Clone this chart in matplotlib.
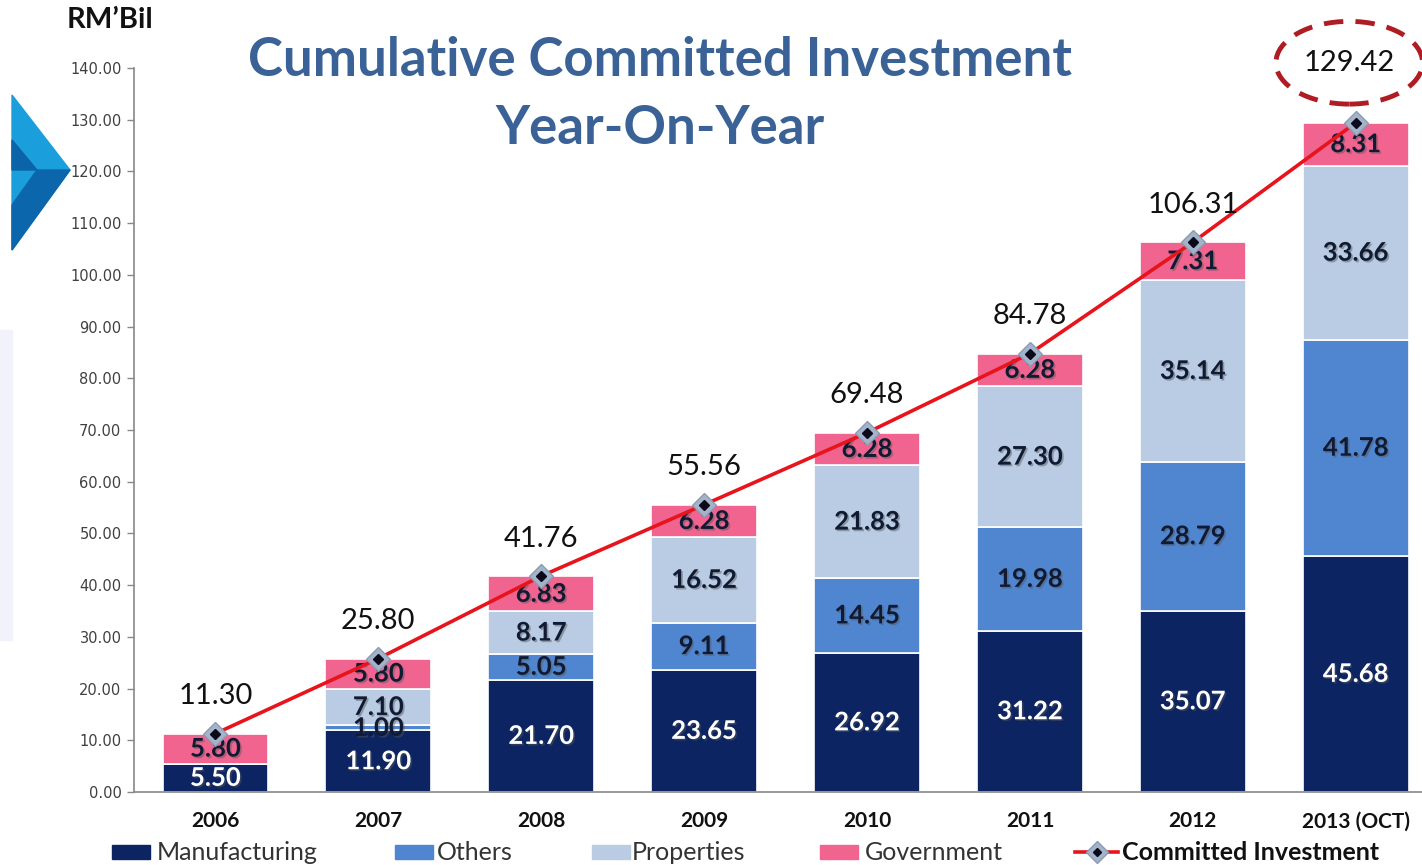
import numpy as np
import matplotlib.pyplot as plt
import matplotlib.patheffects as pe
from matplotlib.patches import Ellipse, Polygon, Rectangle
from matplotlib.lines import Line2D

plt.rcParams['font.family'] = ['Lato', 'DejaVu Sans']

# values in RM billion
years = ['2006', '2007', '2008', '2009', '2010', '2011', '2012', '2013 (OCT)']
manufacturing = [5.50, 11.90, 21.70, 23.65, 26.92, 31.22, 35.07, 45.68]
others = [0.00, 1.00, 5.05, 9.11, 14.45, 19.98, 28.79, 41.78]
properties = [0.00, 7.10, 8.17, 16.52, 21.83, 27.30, 35.14, 33.66]
government = [5.80, 5.80, 6.83, 6.28, 6.28, 6.28, 7.31, 8.31]
committed = [11.30, 25.80, 41.76, 55.56, 69.48, 84.78, 106.31, 129.42]
yticks = np.arange(0, 141, 10)

series = [('Manufacturing', manufacturing, '#0c2461', 'white'),
          ('Others', others, '#4f86cf', '#101a33'),
          ('Properties', properties, '#b9cce4', '#101a33'),
          ('Government', government, '#f0648f', '#101a33')]

W, H = 1422, 865
fig = plt.figure(figsize=(W / 100, H / 100), dpi=100)
fig.patch.set_facecolor('white')


def fpx(x, y):
    # pixel position -> figure fraction
    return (x / W, 1 - y / H)


# decorative chevron on the left edge and faint panel
fig.patches.append(Rectangle(fpx(0, 640), 12 / W, 310 / H, transform=fig.transFigure,
                             color='#f2f2fb', zorder=0))
fig.patches.append(Polygon([fpx(12, 95), fpx(70, 170), fpx(12, 250)], closed=True,
                           transform=fig.transFigure, color='#1a9fdc', zorder=0))
fig.patches.append(Polygon([fpx(12, 140), fpx(37, 170), fpx(12, 170)], closed=True,
                           transform=fig.transFigure, color='#0b63a8', zorder=0))
fig.patches.append(Polygon([fpx(37, 170), fpx(70, 170), fpx(12, 250), fpx(12, 205)],
                           closed=True, transform=fig.transFigure, color='#0b66ac', zorder=0))

ax = fig.add_axes([134 / W, 1 - 792 / H, (W - 134) / W, (792 - 68) / H])
ax.patch.set_alpha(0)

x = np.arange(len(years))
bottom = np.zeros(len(years))
shadow = [pe.SimplePatchShadow(offset=(1.2, -1.2), shadow_rgbFace='#555555', alpha=0.45),
          pe.Normal()]
for name, vals, col, tcol in series:
    vals = np.array(vals)
    ax.bar(x, vals, width=0.65, bottom=bottom, color=col, edgecolor='white',
           linewidth=1.2, zorder=2)
    for xi, b, v in zip(x, bottom, vals):
        if v > 0:
            ax.text(xi, b + v / 2, '%.2f' % v, ha='center', va='center',
                    fontsize=18.5, fontweight='bold', color=tcol, zorder=5,
                    path_effects=shadow)
    bottom += vals

# cumulative line
ax.plot(x, committed, color='#e8141c', lw=2.6, zorder=6)
ax.plot(x, committed, ls='none', marker='D', ms=12, mfc='#a3b3c9', mec='#8a9bb3',
        mew=1, zorder=7)
ax.plot(x, committed, ls='none', marker='D', ms=5, color='#0a0a1a', zorder=8)

for xi, v in zip(x[:-1], committed[:-1]):
    ax.annotate('%.2f' % v, (xi, v), xytext=(0, 27), textcoords='offset points',
                ha='center', va='center', fontsize=21, color='#111111', zorder=9)

# highlighted latest total
ax.text(x[-1] - 0.04, committed[-1] + 11.6, '%.2f' % committed[-1], ha='center',
        va='center', fontsize=21, color='#111111', clip_on=False)
ax.add_patch(Ellipse((x[-1] - 0.04, committed[-1] + 11.6), 0.9, 16, fill=False,
                     edgecolor='#b01c24', lw=3.5, ls=(0, (4, 2.5)), clip_on=False))

ax.set_xlim(-0.5, -0.5 + (W - 134) / 162.9)
ax.set_ylim(0, 140)
ax.set_yticks(yticks)
ax.set_yticklabels(['%.2f' % t for t in yticks], fontsize=10.5, color='#404040',
                   family='DejaVu Sans')
ax.tick_params(axis='y', length=5, width=1, color='#888888', pad=4)
ax.set_xticks(x)
ax.set_xticklabels(years, fontsize=15, fontweight='bold', color='#111111')
ax.tick_params(axis='x', length=0, pad=14)
for s in ['top', 'right']:
    ax.spines[s].set_visible(False)
for s in ['left', 'bottom']:
    ax.spines[s].set_color('#888888')
    ax.spines[s].set_linewidth(1.2)

fig.text(*fpx(67, 20), 'RM\u2019Bil', fontsize=21, fontweight='bold', va='center',
         ha='left', color='#111111')
fig.text(*fpx(660, 60), 'Cumulative Committed Investment', fontsize=38,
         fontweight='bold', color='#3a6296', ha='center', va='center')
fig.text(*fpx(660, 128), 'Year-On-Year', fontsize=38, fontweight='bold',
         color='#3a6296', ha='center', va='center')

# legend row
ly = 852
patch_x = [112, 395, 592, 820]
text_x = [157, 437, 632, 865]
for (name, vals, col, tcol), px_, tx_ in zip(series, patch_x, text_x):
    fig.patches.append(Rectangle(fpx(px_, ly + 7), 38 / W, 14 / H,
                                 transform=fig.transFigure, color=col))
    fig.text(*fpx(tx_, ly), name, fontsize=18, va='center', ha='left', color='#333333')
fig.lines.append(Line2D([1075 / W, 1118 / W], [1 - ly / H] * 2, transform=fig.transFigure,
                        color='#e8141c', lw=2.6))
fig.lines.append(Line2D([1097 / W], [1 - ly / H], transform=fig.transFigure, marker='D',
                        ms=11, mfc='#a3b3c9', mec='#8a9bb3'))
fig.lines.append(Line2D([1097 / W], [1 - ly / H], transform=fig.transFigure, marker='D',
                        ms=4.5, color='#0a0a1a'))
fig.text(*fpx(1122, ly), 'Committed Investment', fontsize=18, fontweight='bold',
         va='center', ha='left', color='#111111')

fig.savefig('out.png', dpi=100)
